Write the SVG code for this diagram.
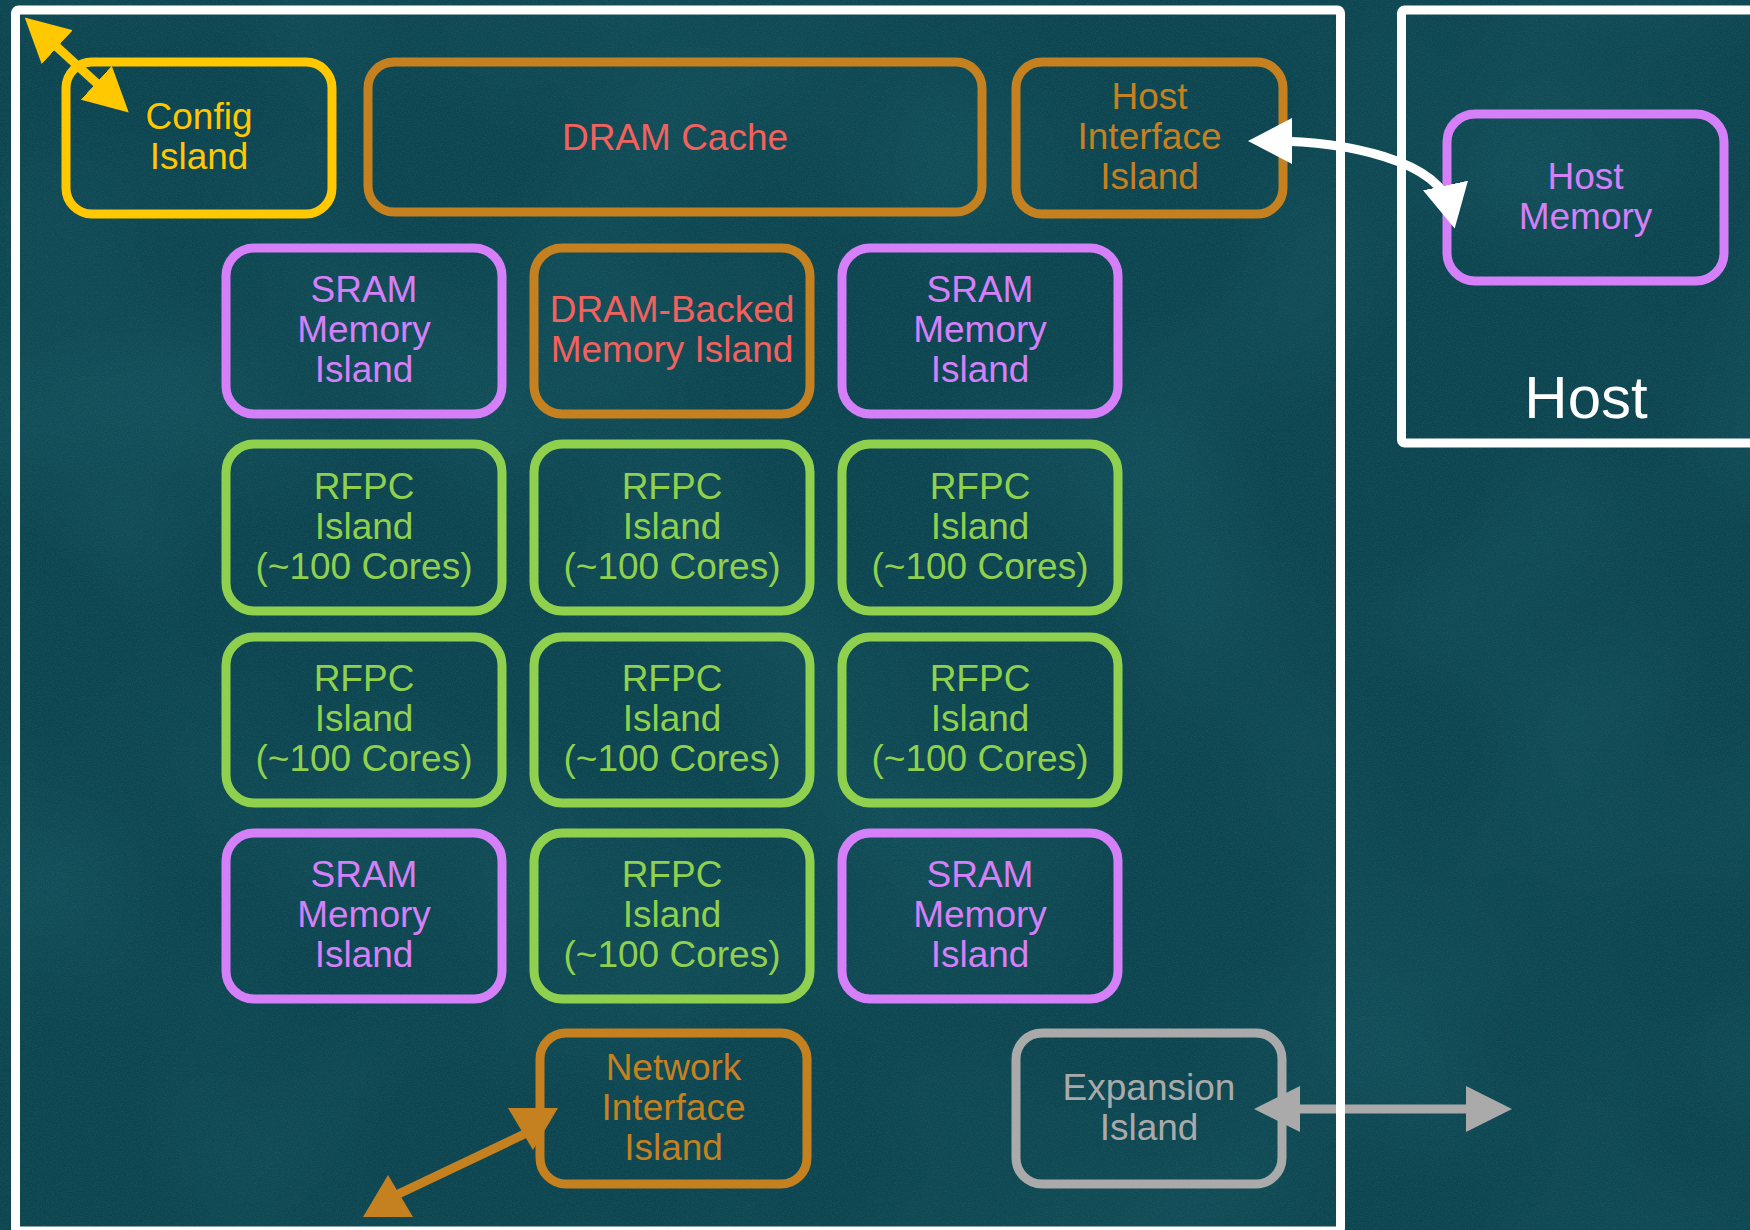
<svg xmlns="http://www.w3.org/2000/svg" width="1750" height="1230" viewBox="0 0 1750 1230">
  <defs>
    <style>
      .box { fill: none; stroke-width: 9; }
      .lbl { font-family: "Liberation Sans", Arial, sans-serif; font-size: 37px; text-anchor: middle; }
      .frame { fill: none; stroke: #ffffff; stroke-width: 9; }
      .yellow { stroke: #ffc800; }
      .orange { stroke: #c5811f; }
      .purple { stroke: #d580f8; }
      .green { stroke: #8fd14f; }
      .gray { stroke: #aaaaaa; }
      .t-yellow { fill: #ffc800; }
      .t-orange { fill: #c5811f; }
      .t-red { fill: #f2615d; }
      .t-purple { fill: #d580f8; }
      .t-green { fill: #8fd14f; }
      .t-gray { fill: #aaaaaa; }
      .conn { fill: none; stroke-width: 9; }
    </style>
    <filter id="grain" x="0" y="0" width="100%" height="100%">
      <feTurbulence type="fractalNoise" baseFrequency="0.8" numOctaves="2" seed="7" result="n"/>
      <feColorMatrix in="n" values="0 0 0 0 0.45  0 0 0 0 0.7  0 0 0 0 0.72  0.3 0 0 0 -0.11"/>
    </filter>
    <filter id="blotch" x="0" y="0" width="100%" height="100%">
      <feTurbulence type="fractalNoise" baseFrequency="0.004" numOctaves="2" seed="2" result="n"/>
      <feColorMatrix in="n" values="0 0 0 0 0.05  0 0 0 0 0.32  0 0 0 0 0.36  0.25 0 0 0 -0.1"/>
    </filter>
    <marker id="ah-yellow" viewBox="0 0 44 46" markerWidth="44" markerHeight="46" markerUnits="userSpaceOnUse" refX="24" refY="23" orient="auto-start-reverse" preserveAspectRatio="none">
      <path d="M0,0 L44,23 L0,46 z" fill="#ffc800"/>
    </marker>
    <marker id="ah-white" viewBox="0 0 44 46" markerWidth="44" markerHeight="46" markerUnits="userSpaceOnUse" refX="24" refY="23" orient="auto-start-reverse" preserveAspectRatio="none">
      <path d="M0,0 L44,23 L0,46 z" fill="#ffffff"/>
    </marker>
    <marker id="ah-orange" viewBox="0 0 42 50" markerWidth="42" markerHeight="50" markerUnits="userSpaceOnUse" refX="22" refY="25" orient="auto-start-reverse" preserveAspectRatio="none">
      <path d="M0,0 L42,25 L0,50 z" fill="#c5811f"/>
    </marker>
    <marker id="ah-gray" viewBox="0 0 46 46" markerWidth="46" markerHeight="46" markerUnits="userSpaceOnUse" refX="26" refY="23" orient="auto-start-reverse" preserveAspectRatio="none">
      <path d="M0,0 L46,23 L0,46 z" fill="#aaaaaa"/>
    </marker>
  </defs>

  <rect x="0" y="0" width="1750" height="1230" fill="#0c4550"/>
  <rect x="0" y="0" width="1750" height="1230" filter="url(#blotch)"/>
  <rect x="0" y="0" width="1750" height="1230" filter="url(#grain)" opacity="0.5"/>

  <g id="config-island">
    <rect class="box yellow" x="66" y="62" width="266" height="152" rx="26"/>
    <text class="lbl t-yellow"><tspan x="199" y="129">Config</tspan><tspan x="199" y="169">Island</tspan></text>
  </g>
  <g id="dram-cache">
    <rect class="box orange" x="368" y="62" width="614" height="150" rx="26"/>
    <text class="lbl t-red" x="675" y="150">DRAM Cache</text>
  </g>
  <g id="host-interface-island">
    <rect class="box orange" x="1016" y="62" width="267" height="152" rx="26"/>
    <text class="lbl t-orange"><tspan x="1149.5" y="109">Host</tspan><tspan x="1149.5" y="149">Interface</tspan><tspan x="1149.5" y="189">Island</tspan></text>
  </g>
  <g id="host-memory">
    <rect class="box purple" x="1447" y="114" width="277" height="167" rx="28"/>
    <text class="lbl t-purple"><tspan x="1585.5" y="188.5">Host</tspan><tspan x="1585.5" y="228.5">Memory</tspan></text>
  </g>

  <g id="sram-1">
    <rect class="box purple" x="226" y="248" width="276" height="166" rx="28"/>
    <text class="lbl t-purple"><tspan x="364" y="302">SRAM</tspan><tspan x="364" y="342">Memory</tspan><tspan x="364" y="382">Island</tspan></text>
  </g>
  <g id="dram-backed-memory-island">
    <rect class="box orange" x="534" y="248" width="276" height="166" rx="28"/>
    <text class="lbl t-red"><tspan x="672" y="322">DRAM-Backed</tspan><tspan x="672" y="362">Memory Island</tspan></text>
  </g>
  <g id="sram-2">
    <rect class="box purple" x="842" y="248" width="276" height="166" rx="28"/>
    <text class="lbl t-purple"><tspan x="980" y="302">SRAM</tspan><tspan x="980" y="342">Memory</tspan><tspan x="980" y="382">Island</tspan></text>
  </g>

  <g id="rfpc-1">
    <rect class="box green" x="226" y="444" width="276" height="167" rx="28"/>
    <text class="lbl t-green"><tspan x="364" y="498.5">RFPC</tspan><tspan x="364" y="538.5">Island</tspan><tspan x="364" y="578.5">(~100 Cores)</tspan></text>
  </g>
  <g id="rfpc-2">
    <rect class="box green" x="534" y="444" width="276" height="167" rx="28"/>
    <text class="lbl t-green"><tspan x="672" y="498.5">RFPC</tspan><tspan x="672" y="538.5">Island</tspan><tspan x="672" y="578.5">(~100 Cores)</tspan></text>
  </g>
  <g id="rfpc-3">
    <rect class="box green" x="842" y="444" width="276" height="167" rx="28"/>
    <text class="lbl t-green"><tspan x="980" y="498.5">RFPC</tspan><tspan x="980" y="538.5">Island</tspan><tspan x="980" y="578.5">(~100 Cores)</tspan></text>
  </g>

  <g id="rfpc-4">
    <rect class="box green" x="226" y="637" width="276" height="166" rx="28"/>
    <text class="lbl t-green"><tspan x="364" y="691">RFPC</tspan><tspan x="364" y="731">Island</tspan><tspan x="364" y="771">(~100 Cores)</tspan></text>
  </g>
  <g id="rfpc-5">
    <rect class="box green" x="534" y="637" width="276" height="166" rx="28"/>
    <text class="lbl t-green"><tspan x="672" y="691">RFPC</tspan><tspan x="672" y="731">Island</tspan><tspan x="672" y="771">(~100 Cores)</tspan></text>
  </g>
  <g id="rfpc-6">
    <rect class="box green" x="842" y="637" width="276" height="166" rx="28"/>
    <text class="lbl t-green"><tspan x="980" y="691">RFPC</tspan><tspan x="980" y="731">Island</tspan><tspan x="980" y="771">(~100 Cores)</tspan></text>
  </g>

  <g id="sram-3">
    <rect class="box purple" x="226" y="833" width="276" height="166" rx="28"/>
    <text class="lbl t-purple"><tspan x="364" y="887">SRAM</tspan><tspan x="364" y="927">Memory</tspan><tspan x="364" y="967">Island</tspan></text>
  </g>
  <g id="rfpc-7">
    <rect class="box green" x="534" y="833" width="276" height="166" rx="28"/>
    <text class="lbl t-green"><tspan x="672" y="887">RFPC</tspan><tspan x="672" y="927">Island</tspan><tspan x="672" y="967">(~100 Cores)</tspan></text>
  </g>
  <g id="sram-4">
    <rect class="box purple" x="842" y="833" width="276" height="166" rx="28"/>
    <text class="lbl t-purple"><tspan x="980" y="887">SRAM</tspan><tspan x="980" y="927">Memory</tspan><tspan x="980" y="967">Island</tspan></text>
  </g>

  <g id="network-interface-island">
    <rect class="box orange" x="540" y="1033" width="267" height="151" rx="26"/>
    <text class="lbl t-orange"><tspan x="673.5" y="1079.5">Network</tspan><tspan x="673.5" y="1119.5">Interface</tspan><tspan x="673.5" y="1159.5">Island</tspan></text>
  </g>
  <g id="expansion-island">
    <rect class="box gray" x="1016" y="1033" width="266" height="151" rx="26"/>
    <text class="lbl t-gray"><tspan x="1149" y="1099.5">Expansion</tspan><tspan x="1149" y="1139.5">Island</tspan></text>
  </g>

  <g id="connectors">
    <path class="conn" stroke="#ffc800" d="M39.5,31 L114,99" marker-start="url(#ah-yellow)" marker-end="url(#ah-yellow)"/>
    <path class="conn" stroke="#ffffff" stroke-width="8" d="M1268,141 C1345,141 1440,160 1450.5,209" marker-start="url(#ah-white)" marker-end="url(#ah-white)"/>
    <path class="conn" stroke="#c5811f" d="M533,1130 L533,1129.99 L392,1197 L388,1195 L388,1194.99" marker-start="url(#ah-orange)" marker-end="url(#ah-orange)"/>
    <path class="conn" stroke="#aaaaaa" d="M1274,1109 L1492,1109" marker-start="url(#ah-gray)" marker-end="url(#ah-gray)"/>
  </g>

  <g id="chip-frame">
    <rect class="frame" x="15.5" y="10" width="1325" height="1221" rx="3"/>
  </g>
  <g id="host">
    <rect class="frame" x="1401.5" y="10" width="400" height="433" rx="3"/>
    <text x="1586" y="418" font-family="'Liberation Sans', Arial, sans-serif" font-size="60" fill="#ffffff" text-anchor="middle">Host</text>
  </g>
</svg>
